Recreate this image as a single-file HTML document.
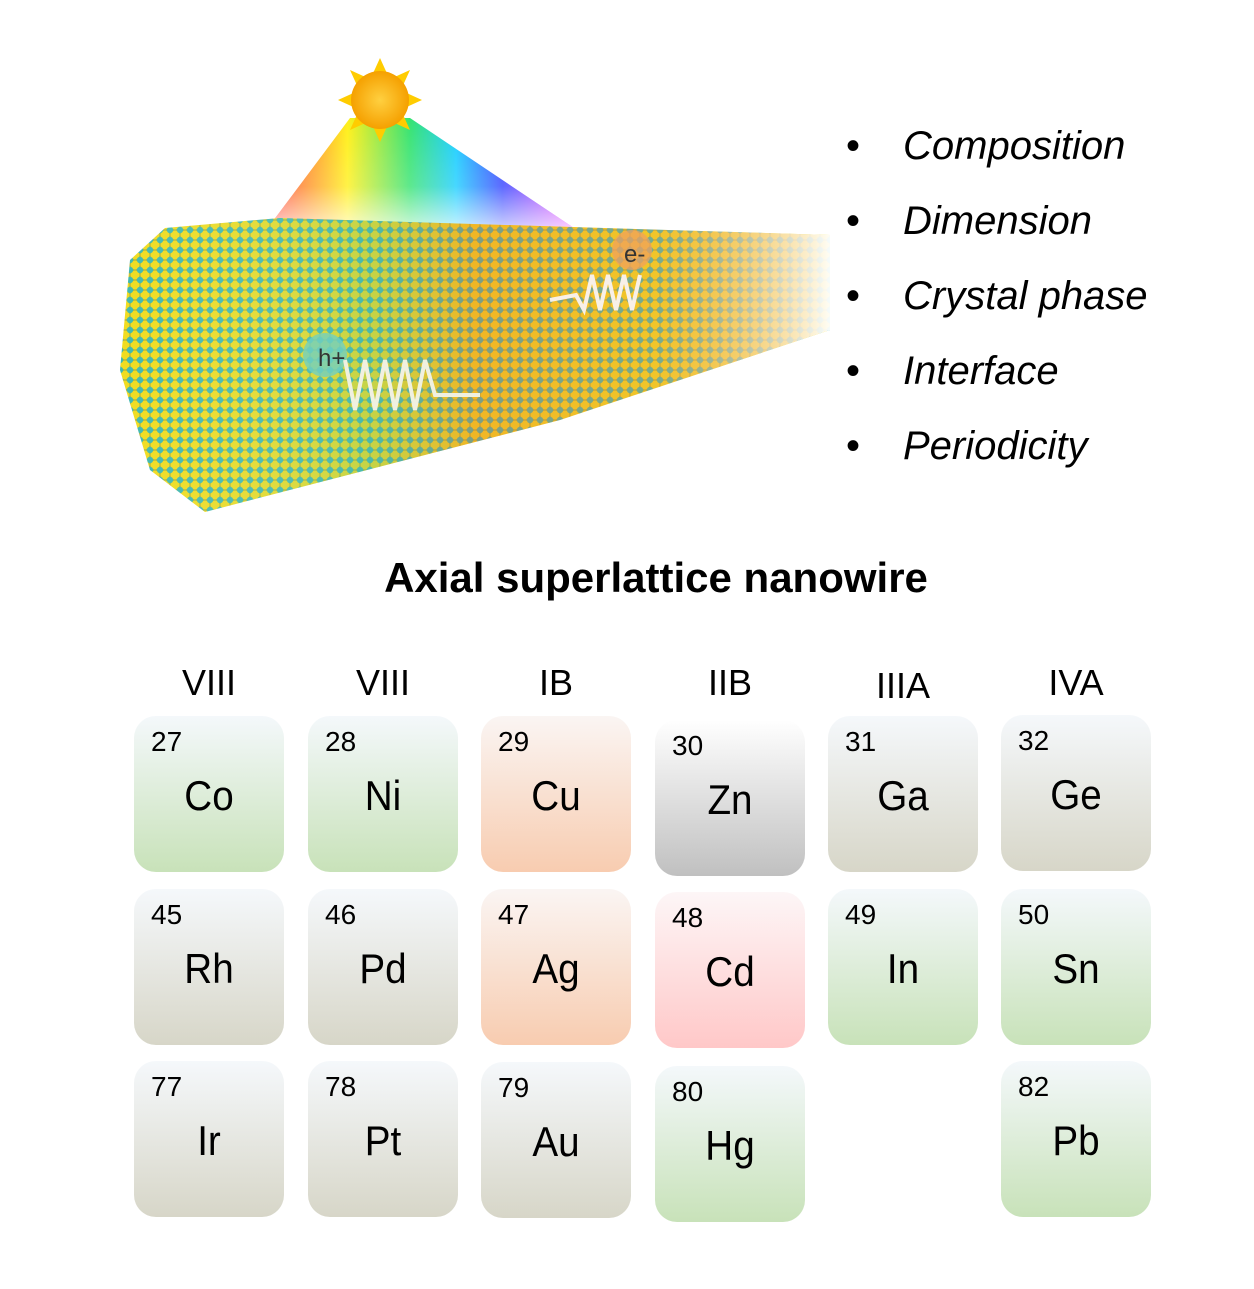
<!DOCTYPE html>
<html><head><meta charset="utf-8"><style>
body{margin:0;width:1254px;height:1289px;background:#fff;font-family:"Liberation Sans",sans-serif;position:relative;overflow:hidden}
.t{position:absolute;width:150px;height:156px;border-radius:22px}
.g{background:linear-gradient(#f4f8fb,#c8e2b9)}
.o{background:linear-gradient(#faf5f3,#f8ccb0)}
.y{background:linear-gradient(#ffffff,#c0c0c0)}
.b{background:linear-gradient(#f5f8fb,#d7d6c8)}
.p{background:linear-gradient(#fdf6f7,#ffc8c8)}
.n{position:absolute;left:17px;top:10px;font-size:28px}
.s{position:absolute;left:0;right:0;top:56px;text-align:center;font-size:42px;transform:scaleX(.92)}
.h{position:absolute;top:662px;font-size:36px;width:150px;text-align:center}
.bl{position:absolute;left:846px;font-size:40px;font-style:italic}
.bl span{display:inline-block;width:57px;font-style:normal}
</style></head><body>
<svg width="900" height="530" style="position:absolute;left:0;top:0">
<defs>
<linearGradient id="rb" x1="0" x2="1"><stop offset="0" stop-color="#ff2020"/><stop offset=".25" stop-color="#ffee00"/><stop offset=".45" stop-color="#20e060"/><stop offset=".6" stop-color="#00c8ff"/><stop offset=".75" stop-color="#2030ff"/><stop offset="1" stop-color="#ff20ff"/></linearGradient>
<linearGradient id="fade" x1="0" y1="0" x2="0" y2="1"><stop offset="0" stop-color="#fff" stop-opacity="0"/><stop offset=".6" stop-color="#fff" stop-opacity=".2"/><stop offset="1" stop-color="#fff" stop-opacity=".8"/></linearGradient>
<pattern id="dots" width="10" height="10" patternUnits="userSpaceOnUse"><rect width="10" height="10" fill="#a8b040"/><circle cx="5" cy="5" r="4.5" fill="#f0dc20"/><circle cx="0" cy="0" r="3.2" fill="#40b8b0"/><circle cx="10" cy="10" r="3.2" fill="#40b8b0"/><circle cx="10" cy="0" r="3.2" fill="#40b8b0"/><circle cx="0" cy="10" r="3.2" fill="#40b8b0"/></pattern>
<linearGradient id="wf" x1="0" x2="1"><stop offset="0" stop-color="#fff" stop-opacity="0"/><stop offset=".35" stop-color="#60c0a0" stop-opacity=".3"/><stop offset=".5" stop-color="#f07030" stop-opacity=".35"/><stop offset=".75" stop-color="#f09040" stop-opacity=".3"/><stop offset="1" stop-color="#fff" stop-opacity=".95"/></linearGradient>
<radialGradient id="sun"><stop offset="0" stop-color="#ffd040"/><stop offset="1" stop-color="#f5a000"/></radialGradient>
</defs>
<polygon points="350,118 270,225 580,232 410,118" fill="url(#rb)" opacity=".9"/>
<polygon points="350,118 270,225 580,232 410,118" fill="url(#fade)"/>
<polygon points="130,260 165,228 280,218 830,235 830,330 560,420 205,512 150,470 120,370" fill="url(#dots)"/>
<polygon points="130,260 165,228 280,218 830,235 830,330 560,420 205,512 150,470 120,370" fill="url(#wf)"/>
<circle cx="325" cy="355" r="22" fill="#70d0c0" opacity=".8"/>
<text x="318" y="366" font-size="24" fill="#333" font-family="Liberation Sans">h+</text>
<polyline points="345,360 355,410 365,360 375,410 385,360 395,410 405,360 415,410 425,360 435,395 480,395" fill="none" stroke="#f0f0e0" stroke-width="4"/>
<circle cx="632" cy="250" r="20" fill="#f0a060" opacity=".7"/>
<text x="624" y="262" font-size="24" fill="#333" font-family="Liberation Sans">e-</text>
<polyline points="640,275 632,310 624,275 616,310 608,275 600,310 592,275 584,310 576,295 550,300" fill="none" stroke="#f8f0e8" stroke-width="4"/>
<g fill="#ffcc00"><polygon points="380,58 390,80 370,80"/><polygon points="380,142 390,120 370,120"/><polygon points="338,100 360,90 360,110"/><polygon points="422,100 400,90 400,110"/><polygon points="350,70 372,80 360,92"/><polygon points="410,70 388,80 400,92"/><polygon points="350,130 372,120 360,108"/><polygon points="410,130 388,120 400,108"/></g>
<circle cx="380" cy="100" r="29" fill="url(#sun)"/>
</svg>
<div class="bl" style="top:124px"><span>•</span>Composition</div>
<div class="bl" style="top:199px"><span>•</span>Dimension</div>
<div class="bl" style="top:274px"><span>•</span>Crystal phase</div>
<div class="bl" style="top:349px"><span>•</span>Interface</div>
<div class="bl" style="top:424px"><span>•</span>Periodicity</div>
<div style="position:absolute;left:0;width:1312px;top:554px;text-align:center;font-size:42px;font-weight:bold">Axial superlattice nanowire</div>
<div class="h" style="left:134px">VIII</div><div class="h" style="left:308px">VIII</div><div class="h" style="left:481px">IB</div><div class="h" style="left:655px">IIB</div><div class="h" style="left:828px;top:665px">IIIA</div><div class="h" style="left:1001px">IVA</div>
<div class="t g" style="left:134px;top:716px"><div class="n">27</div><div class="s">Co</div></div>
<div class="t g" style="left:308px;top:716px"><div class="n">28</div><div class="s">Ni</div></div>
<div class="t o" style="left:481px;top:716px"><div class="n">29</div><div class="s">Cu</div></div>
<div class="t y" style="left:655px;top:720px"><div class="n">30</div><div class="s">Zn</div></div>
<div class="t b" style="left:828px;top:716px"><div class="n">31</div><div class="s">Ga</div></div>
<div class="t b" style="left:1001px;top:715px"><div class="n">32</div><div class="s">Ge</div></div>
<div class="t b" style="left:134px;top:889px"><div class="n">45</div><div class="s">Rh</div></div>
<div class="t b" style="left:308px;top:889px"><div class="n">46</div><div class="s">Pd</div></div>
<div class="t o" style="left:481px;top:889px"><div class="n">47</div><div class="s">Ag</div></div>
<div class="t p" style="left:655px;top:892px"><div class="n">48</div><div class="s">Cd</div></div>
<div class="t g" style="left:828px;top:889px"><div class="n">49</div><div class="s">In</div></div>
<div class="t g" style="left:1001px;top:889px"><div class="n">50</div><div class="s">Sn</div></div>
<div class="t b" style="left:134px;top:1061px"><div class="n">77</div><div class="s">Ir</div></div>
<div class="t b" style="left:308px;top:1061px"><div class="n">78</div><div class="s">Pt</div></div>
<div class="t b" style="left:481px;top:1062px"><div class="n">79</div><div class="s">Au</div></div>
<div class="t g" style="left:655px;top:1066px"><div class="n">80</div><div class="s">Hg</div></div>
<div class="t g" style="left:1001px;top:1061px"><div class="n">82</div><div class="s">Pb</div></div>
</body></html>
